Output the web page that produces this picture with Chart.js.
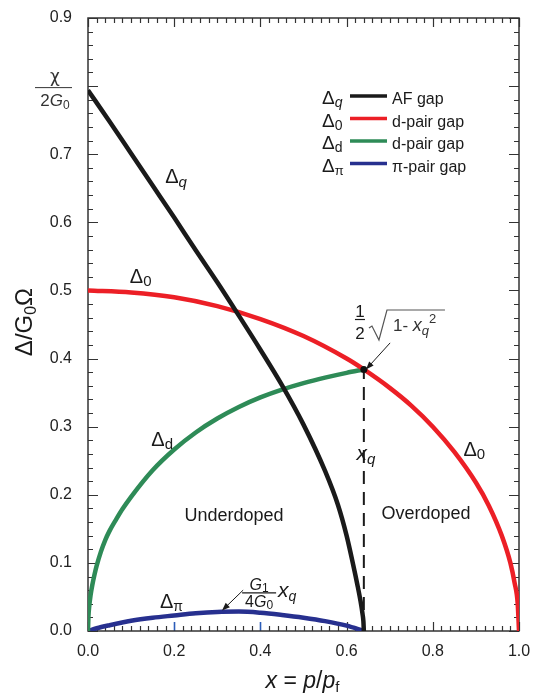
<!DOCTYPE html>
<html>
<head>
<meta charset="utf-8">
<script src="https://cdn.jsdelivr.net/npm/chart.js@4.4.1/dist/chart.umd.min.js"></script>
<style>
  html, body { margin: 0; padding: 0; background: #fff; }
  #gapChart { display: block; }
</style>
</head>
<body>
<canvas id="gapChart" width="538" height="694"></canvas>
<script>
////// data //////
const xTickLabels = ['0.0', '0.2', '0.4', '0.6', '0.8', '1.0'];
const yTickLabels = ['0.0', '0.1', '0.2', '0.3', '0.4', '0.5', '0.6', '0.7', '', '0.9']; // 0.8 replaced by chi/2G0

// AF gap (Delta_q)
const afX = [0, 0.05, 0.1, 0.15, 0.2, 0.25, 0.3, 0.35, 0.4, 0.45, 0.5, 0.55, 0.58, 0.6, 0.615, 0.625, 0.632, 0.637, 0.639, 0.64];
const afY = [0.794, 0.748, 0.701, 0.654, 0.607, 0.559, 0.512, 0.463, 0.413, 0.361, 0.303, 0.235, 0.185, 0.14, 0.098, 0.068, 0.045, 0.025, 0.014, 0];

// d-pair gap (Delta_0)
const d0X = [0, 0.1, 0.2, 0.3, 0.4, 0.5, 0.6, 0.64, 0.7, 0.75, 0.8, 0.85, 0.9, 0.93, 0.96, 0.98, 0.99, 0.997, 1.0];
const d0Y = [0.5, 0.497, 0.49, 0.477, 0.458, 0.433, 0.4, 0.384, 0.357, 0.331, 0.3, 0.263, 0.218, 0.184, 0.14, 0.1, 0.07, 0.04, 0];

// d-pair gap (Delta_d)
const ddX = [0, 0.001, 0.003, 0.006, 0.01, 0.015, 0.02, 0.03, 0.04, 0.05, 0.065, 0.08, 0.1, 0.15, 0.2, 0.25, 0.3, 0.35, 0.4, 0.45, 0.5, 0.55, 0.6, 0.64];
const ddY = [0, 0.021, 0.037, 0.0525, 0.0675, 0.0825, 0.0955, 0.1165, 0.1335, 0.147, 0.1635, 0.179, 0.197, 0.236, 0.2665, 0.2915, 0.312, 0.329, 0.343, 0.3545, 0.364, 0.372, 0.379, 0.384];

// pi-pair gap (Delta_pi)
const dpX = [0, 0.02, 0.05, 0.1, 0.15, 0.2, 0.25, 0.3, 0.35, 0.4, 0.45, 0.5, 0.55, 0.6, 0.64];
const dpY = [0, 0.004, 0.0085, 0.015, 0.0195, 0.0228, 0.026, 0.028, 0.0285, 0.0268, 0.0235, 0.0195, 0.0145, 0.0078, 0];

// x_q marker
const xqX = [0.64, 0.64];
const xqY = [0, 0.384];
const dotX = [0.64];
const dotY = [0.384];

////// helpers //////
const FONT = "'Liberation Sans', Arial, sans-serif";
const toPts = (xs, ys) => xs.map((x, i) => ({ x: x, y: ys[i] }));

function curve(xs, ys, color, order) {
    return {
        data: toPts(xs, ys),
        borderColor: color,
        borderWidth: 4.5,
        pointRadius: 0,
        cubicInterpolationMode: 'monotone',
        fill: false,
        order: order
    };
}

// draws a run of text pieces: [text, size, italic, dy, family]
function rich(ctx, x, y, parts, align) {
    const fontOf = p => (p[2] ? 'italic ' : '') + p[1] + 'px ' + (p[4] || FONT);
    let w = 0;
    parts.forEach(p => {
        ctx.font = fontOf(p);
        w += ctx.measureText(p[0]).width;
    });
    let cx = align === 'center' ? x - w / 2 : x;
    ctx.textAlign = 'left';
    ctx.textBaseline = 'alphabetic';
    parts.forEach(p => {
        ctx.font = fontOf(p);
        ctx.fillText(p[0], cx, y + (p[3] || 0));
        cx += ctx.measureText(p[0]).width;
    });
    return w;
}

function arrow(ctx, x1, y1, x2, y2) {
    const a = Math.atan2(y2 - y1, x2 - x1);
    ctx.lineWidth = 1;
    ctx.beginPath();
    ctx.moveTo(x1, y1);
    ctx.lineTo(x2 - 6 * Math.cos(a), y2 - 6 * Math.sin(a));
    ctx.stroke();
    ctx.beginPath();
    ctx.moveTo(x2, y2);
    ctx.lineTo(x2 - 8 * Math.cos(a) + 3 * Math.sin(a), y2 - 8 * Math.sin(a) - 3 * Math.cos(a));
    ctx.lineTo(x2 - 8 * Math.cos(a) - 3 * Math.sin(a), y2 - 8 * Math.sin(a) + 3 * Math.cos(a));
    ctx.closePath();
    ctx.fill();
}

////// plugin: frame, inward ticks, annotations, legend //////
const gapDecor = {
    id: 'gapDecor',
    beforeDatasetsDraw(chart) {
        const ctx = chart.ctx;
        const a = chart.chartArea;
        const sx = chart.scales.x, sy = chart.scales.y;
        ctx.save();
        // x ticks every 0.02, major every 0.2
        for (let i = 0; i <= 50; i++) {
            const X = Math.round(sx.getPixelForValue(i * 0.02)) + 0.5;
            const len = i % 10 === 0 ? 9 : 5;
            const blue = (i === 10 || i === 20);
            ctx.strokeStyle = blue ? '#2b5cb8' : '#333';
            ctx.lineWidth = blue ? 1.6 : 1.2;
            ctx.beginPath();
            ctx.moveTo(X, a.bottom);
            ctx.lineTo(X, a.bottom - len);
            ctx.stroke();
            ctx.strokeStyle = '#333';
            ctx.lineWidth = 1.2;
            ctx.beginPath();
            ctx.moveTo(X, a.top);
            ctx.lineTo(X, a.top + len);
            ctx.stroke();
        }
        // y ticks every 0.02, major every 0.1
        for (let i = 0; i <= 45; i++) {
            const Y = Math.round(sy.getPixelForValue(i * 0.02)) + 0.5;
            const len = i % 5 === 0 ? 10 : 5;
            ctx.beginPath();
            ctx.moveTo(a.left, Y);
            ctx.lineTo(a.left + len, Y);
            ctx.moveTo(a.right, Y);
            ctx.lineTo(a.right - len, Y);
            ctx.stroke();
        }
        ctx.lineWidth = 1.5;
        ctx.strokeRect(a.left, a.top, a.right - a.left, a.bottom - a.top);
        ctx.restore();
    },
    afterDatasetsDraw(chart) {
        const ctx = chart.ctx;
        const a = chart.chartArea;
        const sx = chart.scales.x, sy = chart.scales.y;
        const px = v => sx.getPixelForValue(v);
        const py = v => sy.getPixelForValue(v);
        ctx.save();
        ctx.fillStyle = '#1a1a1a';
        ctx.strokeStyle = '#1a1a1a';

        // curve labels
        rich(ctx, px(0.179), py(0.658), [['Δ', 20], ['q', 15, true, 4]]);
        rich(ctx, px(0.097), py(0.511), [['Δ', 20], ['0', 15, false, 3]]);
        rich(ctx, px(0.147), py(0.271), [['Δ', 20], ['d', 15, false, 3]]);
        rich(ctx, px(0.871), py(0.257), [['Δ', 20], ['0', 15, false, 3]]);
        rich(ctx, px(0.167), py(0.034), [['Δ', 20], ['π', 14, false, 3]]);
        rich(ctx, px(0.623), py(0.251), [['x', 21, true], ['q', 15, true, 4]]);
        rich(ctx, px(0.224), py(0.1615), [['Underdoped', 18]]);
        rich(ctx, px(0.681), py(0.164), [['Overdoped', 18]]);

        // 1/2 sqrt(1 - xq^2)
        const fx = px(0.631), fy = py(0.461);
        rich(ctx, fx, fy, [['1', 17]], 'center');
        ctx.lineWidth = 1.2;
        ctx.beginPath();
        ctx.moveTo(fx - 5, fy + 2.5);
        ctx.lineTo(fx + 5, fy + 2.5);
        ctx.stroke();
        rich(ctx, fx, fy + 22, [['2', 17]], 'center');
        ctx.strokeStyle = '#555';
        ctx.beginPath();
        ctx.moveTo(fx + 9, fy + 11);
        ctx.lineTo(fx + 12, fy + 9);
        ctx.lineTo(fx + 19, fy + 23);
        ctx.lineTo(fx + 27, fy - 7);
        ctx.lineTo(fx + 85, fy - 7);
        ctx.stroke();
        ctx.fillStyle = '#333';
        rich(ctx, fx + 33, fy + 14, [['1- ', 17], ['x', 18, true], ['q', 13, true, 4], ['2', 13, false, -8]]);
        ctx.fillStyle = '#1a1a1a';
        ctx.strokeStyle = '#1a1a1a';
        arrow(ctx, px(0.701), py(0.423), px(0.645), py(0.384));

        // G1/(4G0) xq
        const gx = px(0.397), gy = py(0.0568);
        rich(ctx, gx, gy - 2, [['G', 16, true], ['1', 12, false, 2]], 'center');
        ctx.lineWidth = 1.2;
        ctx.beginPath();
        ctx.moveTo(gx - 17, gy + 0.5);
        ctx.lineTo(gx + 17, gy + 0.5);
        ctx.stroke();
        rich(ctx, gx, gy + 15, [['4', 16], ['G', 16, true], ['0', 12, false, 2]], 'center');
        rich(ctx, gx + 19, gy + 5, [['x', 21, true], ['q', 14, true, 4]]);
        arrow(ctx, px(0.360), py(0.060), px(0.311), py(0.030));

        // chi / 2G0 at the 0.8 tick
        const cy = py(0.8);
        ctx.fillStyle = '#333';
        rich(ctx, 55, cy - 4, [['χ', 17, false, 0, "'DejaVu Sans', sans-serif"]], 'center');
        ctx.strokeStyle = '#333';
        ctx.beginPath();
        ctx.moveTo(35, cy + 1.5);
        ctx.lineTo(72, cy + 1.5);
        ctx.stroke();
        rich(ctx, 55, cy + 20, [['2', 17], ['G', 17, true], ['0', 12, false, 3]], 'center');

        // axis titles
        ctx.fillStyle = '#1a1a1a';
        rich(ctx, px(0.412), a.bottom + 57, [['x', 23, true], [' = ', 23], ['p', 23, true], ['/', 23], ['p', 23, true], ['f', 15, false, 4]]);
        ctx.save();
        ctx.translate(32, py(0.4536));
        ctx.rotate(-Math.PI / 2);
        rich(ctx, 0, 0, [['Δ/G', 24], ['0', 16, false, 4], ['Ω', 24]], 'center');
        ctx.restore();

        // legend
        const rows = [
            ['q', true, '#1a1a1a', 'AF gap'],
            ['0', false, '#ec1f26', 'd-pair gap'],
            ['d', false, '#2e8b57', 'd-pair gap'],
            ['π', false, '#27308f', 'π-pair gap']
        ];
        rows.forEach((r, i) => {
            const base = 104 + i * 22.5;
            ctx.fillStyle = '#1a1a1a';
            rich(ctx, 322, base, [['Δ', 19], [r[0], r[0] === 'π' ? 13 : 14, r[1], 3]]);
            ctx.strokeStyle = r[2];
            ctx.lineWidth = 3.5;
            ctx.beginPath();
            ctx.moveTo(350, base - 8);
            ctx.lineTo(387, base - 8);
            ctx.stroke();
            rich(ctx, 392, base, [[r[3], 16]]);
        });
        ctx.restore();
    }
};

////// chart //////
const chart = new Chart(document.getElementById('gapChart'), {
    type: 'line',
    data: {
        datasets: [
            {
                data: toPts(dotX, dotY), showLine: false, pointRadius: 3.5,
                pointBackgroundColor: '#111', pointBorderWidth: 0, order: 0
            },
            curve(afX, afY, '#1a1a1a', 1),
            curve(d0X, d0Y, '#ec1f26', 2),
            curve(ddX, ddY, '#2e8b57', 3),
            curve(dpX, dpY, '#27308f', 4),
            {
                data: toPts(xqX, xqY), borderColor: '#1a1a1a', borderWidth: 2,
                borderDash: [13, 8], pointRadius: 0, order: 5
            }
        ]
    },
    options: {
        responsive: false,
        animation: false,
        devicePixelRatio: 1,
        layout: { padding: { left: 0, right: 19, top: 18, bottom: 0 } },
        plugins: { legend: { display: false }, tooltip: { enabled: false } },
        scales: {
            x: {
                type: 'linear', min: 0, max: 1,
                grid: { display: false, drawTicks: false }, border: { display: false },
                ticks: {
                    stepSize: 0.2, padding: 11, color: '#222',
                    font: { family: FONT, size: 16 },
                    callback: (v, i) => xTickLabels[i]
                },
                afterFit: s => { s.height = 63; s.paddingLeft = 0; s.paddingRight = 0; }
            },
            y: {
                type: 'linear', min: 0, max: 0.9,
                grid: { display: false, drawTicks: false }, border: { display: false },
                ticks: {
                    stepSize: 0.1, padding: 16, color: '#222',
                    font: { family: FONT, size: 16 },
                    callback: (v, i) => yTickLabels[i]
                },
                afterFit: s => { s.width = 88; s.paddingTop = 0; s.paddingBottom = 0; }
            }
        }
    },
    plugins: [gapDecor]
});
</script>
</body>
</html>
